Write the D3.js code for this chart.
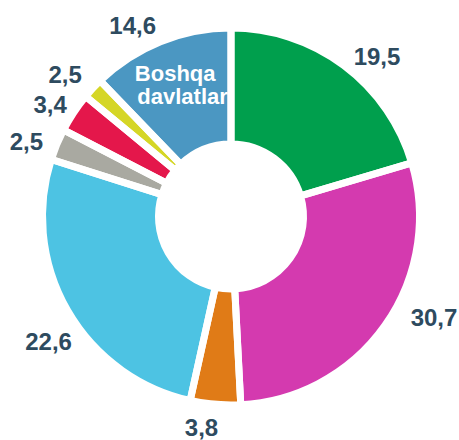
<!DOCTYPE html>
<html>
<head>
<meta charset="utf-8">
<script src="https://cdn.jsdelivr.net/npm/d3@7"></script>
<style>
  body { margin: 0; background: #fff; }
  svg { display: block; }
</style>
</head>
<body>
<div id="chart"></div>
<script>
"use strict";

// slices, clockwise from 12 o'clock
const labels = ['19,5', '30,7', '3,8', '22,6', '2,5', '3,4', '2,5', '14,6'];
// share of the circle each slice takes in the picture (%)
const shares = [20.4, 28.75, 4.3, 26.4, 2.7, 3.4, 1.8, 12.2];
const otherName = ['Boshqa', 'davlatlar'];
const colors = ['#009f4d', '#d43aaf', '#e07b17', '#4dc3e3', '#a9a9a1', '#e4174b', '#d5d626', '#4b97c2'];

const width = 459, height = 440;
const cx = 231, cy = 216.5;
const gap = 7;

// hand-placed label offsets from the slice mid-angle point
const labelNudge = [[15.6, 14.1], [25, -24.8], [-11.4, -6.8], [6.5, 15.8], [-3.1, 8.4], [1, 8.5], [-5.9, 6.5], [-16.8, 11.1]];

const svg = d3.select('#chart').append('svg')
    .attr('width', width).attr('height', height);
const g = svg.append('g').attr('transform', `translate(${cx},${cy})`);

const pie = d3.pie().sort(null).value(d => d);
const arcs = pie(shares);

const arc = d3.arc()
    .innerRadius(76 - gap / 2)
    .outerRadius(185 + gap / 2);
const labelArc = d3.arc().innerRadius(218).outerRadius(218);

g.selectAll('.slice')
    .data(arcs).enter()
    .append('path')
    .attr('class', 'slice')
    .attr('d', arc)
    .attr('fill', (d, i) => colors[i]);

// name inside the last slice
let c = arc.centroid(arcs[7]);
let name = g.append('text')
    .attr('fill', '#fff')
    .attr('font-family', '"Liberation Sans", Arial, sans-serif')
    .attr('font-weight', 'bold')
    .attr('font-size', '22px')
    .attr('text-anchor', 'middle');
name.append('tspan').attr('x', c[0] - 7).attr('y', c[1] - 14.5).text(otherName[0]);
name.append('tspan').attr('x', c[0] + 0.4).attr('y', c[1] + 8.5).text(otherName[1]);

// white gaps between slices, drawn on top
g.selectAll('.gap')
    .data(arcs).enter()
    .append('path')
    .attr('class', 'gap')
    .attr('d', arc)
    .attr('fill', 'none')
    .attr('stroke', '#fff')
    .attr('stroke-width', gap);

g.selectAll('.value')
    .data(arcs).enter()
    .append('text')
    .attr('class', 'value')
    .attr('x', (d, i) => labelArc.centroid(d)[0] + labelNudge[i][0])
    .attr('y', (d, i) => labelArc.centroid(d)[1] + labelNudge[i][1] + 8.6)
    .attr('text-anchor', 'middle')
    .attr('font-family', '"Liberation Sans", Arial, sans-serif')
    .attr('font-weight', 'bold')
    .attr('font-size', '24px')
    .attr('fill', '#2e4b5f')
    .text((d, i) => labels[i]);
</script>
</body>
</html>
